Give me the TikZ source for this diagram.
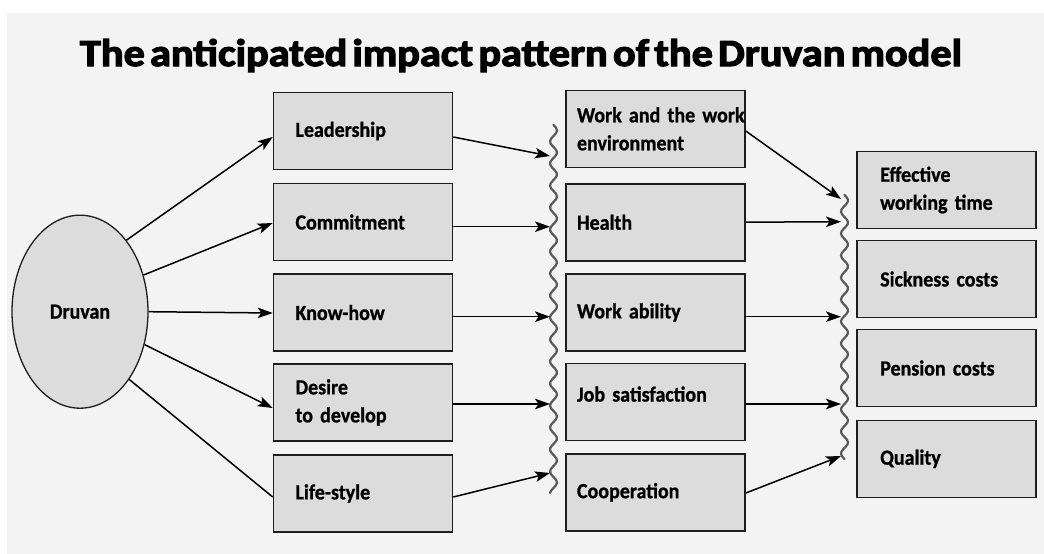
\documentclass[tikz,border=0pt]{standalone}
\usepackage{fontspec}
\usepackage{graphicx}
\setmainfont{Carlito}[FakeStretch=0.93, BoldFeatures={FakeBold=0.9}]
\newfontfamily\titlefont{Carlito}[WordSpace=0.55, BoldFeatures={FakeBold=3}]
\usetikzlibrary{shapes.geometric,arrows.meta}

\definecolor{panel}{HTML}{F3F3F3}
\definecolor{boxfill}{HTML}{DCDCDC}
\definecolor{boxline}{HTML}{1E1E1E}
\definecolor{wavecol}{HTML}{595959}

\newcommand{\bodyfont}{\fontsize{21.5pt}{28pt}\selectfont\bfseries\spaceskip=0.14em\relax}

\tikzset{
  box/.style={draw=boxline, fill=boxfill, line width=1.6pt,
    minimum width=179pt, minimum height=77pt, inner ysep=0pt,
    align=left, font=\bodyfont},
  leftbox/.style={box, inner xsep=22pt, text width=135pt},
  midbox/.style={box, inner xsep=11pt, text width=157pt},
  rightbox/.style={box, inner xsep=23pt, text width=133pt},
  hub/.style={ellipse, draw=boxline, fill=boxfill, line width=1.3pt,
    minimum width=136pt, minimum height=193pt, inner sep=0pt, font=\bodyfont},
  link/.style={line width=1.5pt, -{Stealth[length=15pt,width=10.5pt,inset=3.5pt]}},
  plainlink/.style={line width=1.5pt},
  wave/.style={draw=wavecol, line width=2.2pt, line cap=round}
}

\begin{document}
\begin{tikzpicture}[x=1pt,y=-1pt]
  % page and panel
  \fill[white] (0,0) rectangle (1044,554);
  \useasboundingbox (0,0) rectangle (1044,554);
  \fill[panel] (7,13) rectangle (1044,554);

  % heading
  \node[anchor=base, inner sep=0pt] (title) at (521,66)
    {\resizebox{882pt}{27pt}{\titlefont\bfseries\fontsize{36pt}{40pt}\selectfont The anticipated impact pattern of the Druvan model}};

  % source
  \node[hub] (dru) at (80,311.7) {Druvan};

  % first column
  \node[leftbox] (lead) at (363,131) {Leadership};
  \node[leftbox] (comm) at (363,222) {Commitment};
  \node[leftbox] (know) at (363,312.5) {Know-how};
  \node[leftbox] (desire) at (363,402.5) {Desire\\\mbox{to develop}};
  \node[leftbox] (life) at (363,493.5) {Life-style};

  % second column
  \node[midbox] (work) at (655.5,128.8) {\mbox{Work and the work}\\environment};
  \node[midbox, text depth=0pt] (health) at (655.5,222.2) {Health};
  \node[midbox] (ability) at (655.5,312.5) {\mbox{Work ability}};
  \node[midbox, text depth=16pt] (job) at (655.5,402) {\mbox{Job satisfaction}};
  \node[midbox] (coop) at (655.5,492.3) {Cooperation};

  % third column
  \node[rightbox] (eff) at (946.7,190) {Effective\\\mbox{working time}};
  \node[rightbox] (sick) at (946.7,279) {\mbox{Sickness costs}};
  \node[rightbox] (pension) at (946.7,368) {\mbox{Pension costs}};
  \node[rightbox] (quality) at (946.7,458.8) {Quality};

  % wavy collectors (period 22, amplitude 3.5)
  \draw[wave] plot[smooth, domain=125:493, samples=140, variable=\t]
    ({553.5+3.5*sin(16.3636*(\t-125))}, \t);
  \draw[wave] plot[smooth, domain=195:459, samples=110, variable=\t]
    ({844.5+3.5*sin(16.3636*(\t-195))}, \t);

  \coordinate (w1a) at (550,156);
  \coordinate (w1b) at (550,226.7);
  \coordinate (w1c) at (550,316.7);
  \coordinate (w1d) at (550,404);
  \coordinate (w1e) at (550,473);
  \coordinate (w2a) at (841,199);
  \coordinate (w2b) at (841,221.7);
  \coordinate (w2c) at (841,316.7);
  \coordinate (w2d) at (841,404);
  \coordinate (w2e) at (841,456);

  % source to first column
  \draw[link] (dru.57) -- ([yshift=-6pt]lead.west);
  \draw[link] (dru.30) -- ([yshift=-1pt]comm.west);
  \draw[link] (dru.0) -- ([yshift=-0.5pt]know.west);
  \draw[link] (dru.-27) -- ([yshift=-5.5pt]desire.west);
  \draw[plainlink] (dru.-54) -- ([yshift=-3.5pt]life.west);

  % first column to collector
  \draw[link] ([yshift=-6pt]lead.east) -- (w1a);
  \draw[link] ([yshift=-4.7pt]comm.east) -- (w1b);
  \draw[link] ([yshift=-4.2pt]know.east) -- (w1c);
  \draw[link] ([yshift=-1.5pt]desire.east) -- (w1d);
  \draw[link] ([yshift=-3.5pt]life.east) -- (w1e);

  % second column to collector
  \draw[link] ([yshift=-2.2pt]work.east) -- (w2a);
  \draw[link] (health.east) -- (w2b);
  \draw[link] ([yshift=-4.2pt]ability.east) -- (w2c);
  \draw[link] ([yshift=-2pt]job.east) -- (w2d);
  \draw[link] ([yshift=-0.7pt]coop.east) -- (w2e);
\end{tikzpicture}
\end{document}
